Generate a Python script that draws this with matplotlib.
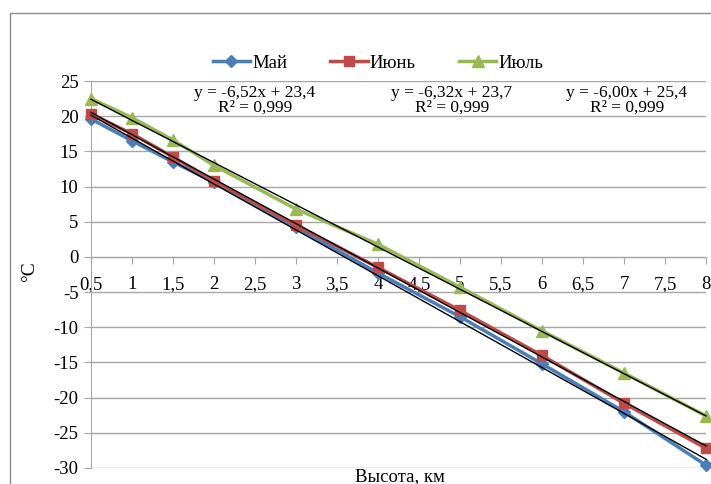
import matplotlib
matplotlib.use("Agg")
import matplotlib.pyplot as plt
import numpy as np
from matplotlib.patches import Rectangle

plt.rcParams['font.family'] = ['Liberation Serif', 'DejaVu Serif']

heights = [0.5, 1, 1.5, 2, 3, 4, 5, 6, 7, 8]
may = [19.6, 16.5, 13.5, 10.6, 4.2, -2.3, -8.5, -15.2, -22.0, -29.6]
june = [20.3, 17.5, 14.2, 10.8, 4.5, -1.5, -7.6, -14.0, -20.8, -27.2]
july = [22.5, 19.8, 16.6, 13.0, 6.8, 1.8, -4.3, -10.5, -16.5, -22.6]

series_names = ['Май', 'Июнь', 'Июль']
slopes = [-6.52, -6.32, -6.00]
intercepts = [23.4, 23.7, 25.4]
eq_labels = ['y = -6,52x + 23,4\nR² = 0,999',
             'y = -6,32x + 23,7\nR² = 0,999',
             'y = -6,00x + 25,4\nR² = 0,999']

xticks = [0.5, 1, 1.5, 2, 2.5, 3, 3.5, 4, 4.5, 5, 5.5, 6, 6.5, 7, 7.5, 8]
xticklabels = ['0,5', '1', '1,5', '2', '2,5', '3', '3,5', '4', '4,5', '5',
               '5,5', '6', '6,5', '7', '7,5', '8']
yticks = [25, 20, 15, 10, 5, 0, -5, -10, -15, -20, -25, -30]

colors = ['#4A7EBB', '#BE4B48', '#98B954']
markers = ['D', 's', '^']
msizes = [6, 7.5, 8]

fig = plt.figure(figsize=(7.11, 4.84), dpi=100)
# outer chart frame
fig.patches.append(Rectangle((10/711, -0.1), 1.1, 1 - 13/484 + 0.1,
                             transform=fig.transFigure, fill=False,
                             edgecolor='#8C8C8C', linewidth=1.0))

ax = fig.add_axes([91/711, 1 - 468/484, (706 - 91)/711, (468 - 81)/484])
for sp in ['top', 'right']:
    ax.spines[sp].set_visible(False)
ax.spines['left'].set_color('#A6A6A6')
ax.spines['bottom'].set_position(('data', 0))
ax.spines['bottom'].set_color('#A6A6A6')

lines = []
for vals, name, c, m, ms in zip([may, june, july], series_names, colors, markers, msizes):
    ln, = ax.plot(heights, vals, color=c, marker=m, markersize=ms, linewidth=2.5,
                  label=name, zorder=3, clip_on=False)
    lines.append(ln)

xs = np.array([heights[0], heights[-1]])
for s, b in zip(slopes, intercepts):
    ax.plot(xs, s * xs + b, color='black', linewidth=1.0, zorder=4, clip_on=False)

ax.set_xlim(0.5, 8)
ax.set_ylim(-30, 25)
ax.set_yticks(yticks)
ax.set_yticklabels([str(v) for v in yticks])
ax.set_xticks(xticks)
ax.set_xticklabels(xticklabels)
ax.yaxis.grid(True, color='#A6A6A6', linewidth=1.0)
ax.set_axisbelow(True)

ax.tick_params(axis='y', length=5, color='#A6A6A6', pad=4, labelsize=13.5)
ax.tick_params(axis='x', length=5, color='#A6A6A6', pad=9, labelsize=13.5)

# trend equations
for lbl, xp in zip(eq_labels, [255, 452, 627]):
    fig.text(xp/711, 1 - 100/484, lbl, ha='center', va='center', fontsize=12.5,
             linespacing=0.9)

fig.legend(handles=lines, loc='center', bbox_to_anchor=(378/711, 1 - 63/484),
           ncol=3, frameon=False, fontsize=13.5, handlelength=2.0,
           columnspacing=2.3, handletextpad=0.1)

fig.text(30/711, 1 - 272/484, '°C', rotation=90, ha='center', va='center', fontsize=14)
fig.text(400/711, 1 - 477/484, 'Высота, км', ha='center', va='center', fontsize=13.5)

fig.savefig('out.png', dpi=100)
